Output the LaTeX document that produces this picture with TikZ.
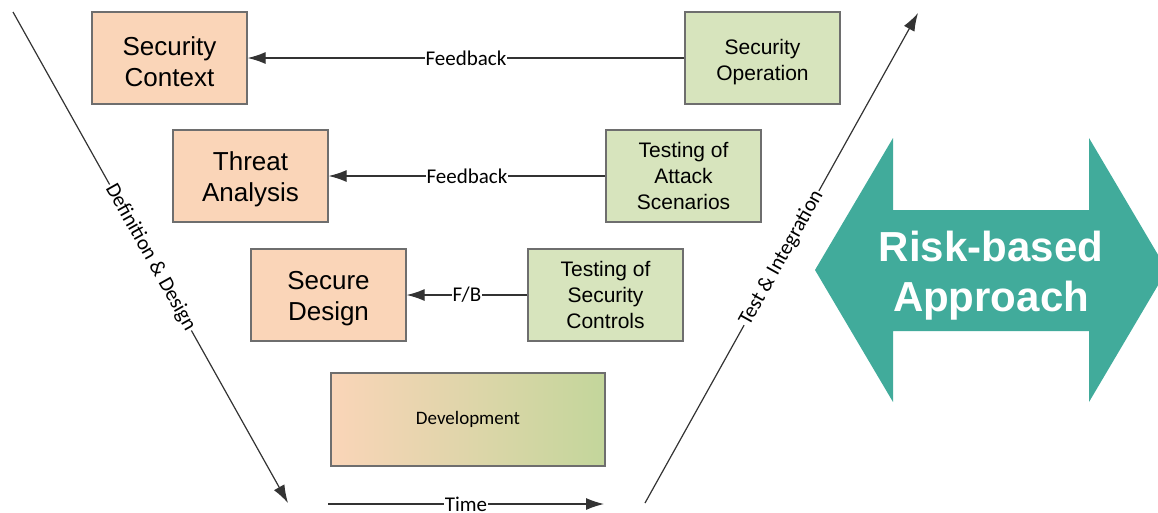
\documentclass[tikz,border=0pt]{standalone}
\usepackage{fontspec}
\setmainfont{Liberation Sans}
\newfontfamily\calib{Carlito}
\usetikzlibrary{arrows.meta}
\definecolor{peach}{HTML}{FAD5B8}
\definecolor{sage}{HTML}{D7E4BD}
\definecolor{olive}{HTML}{C3D69B}
\definecolor{teal}{HTML}{41AB9B}
\definecolor{edge}{HTML}{6E6E6E}
\definecolor{wire}{HTML}{333333}
% taller first line, pushes two-line captions slightly down in their boxes
\newcommand{\tallstrut}[1]{\rule{0pt}{#1}}
\begin{document}
\begin{tikzpicture}[x=1pt,y=-1pt,
  box/.style={draw=edge, line width=1.3pt, minimum width=155pt, minimum height=92pt,
    align=center, inner sep=0pt},
  defbox/.style={box, fill=peach, font=\fontsize{26}{31}\selectfont},
  testbox/.style={box, fill=sage, font=\fontsize{21}{26}\selectfont},
  wirelabel/.style={fill=white, inner sep=1pt, text=black, font=\calib\fontsize{21}{24}\selectfont},
  conn/.style={draw=wire, line width=1.2pt, -{Latex[length=18pt,width=12pt]}}
]
\useasboundingbox (0,0) rectangle (1158,512);
\clip (0,0) rectangle (1158,512);

% left column: definition phase
\node[defbox] (ctx) at (169.5,58) {\tallstrut{26pt}Security\\Context};
\node[defbox] (thr) at (250.5,176) {\tallstrut{25pt}Threat\\Analysis};
\node[defbox] (sec) at (328.5,295) {\tallstrut{25pt}Secure\\Design};

% right column: test phase
\node[testbox] (ops) at (762.5,58) {\tallstrut{24pt}Security\\Operation};
\node[testbox] (att) at (683.5,176) {Testing of\\Attack\\Scenarios};
\node[testbox] (ctl) at (605.5,295) {Testing of\\Security\\Controls};

% development at the bottom of the V
\node[box, minimum width=274pt, minimum height=93pt, left color=peach, right color=olive,
      font=\calib\fontsize{19}{22}\selectfont] (dev) at (468,419.5) {Development};

% feedback connectors
\draw[conn] (ops.west) -- node[wirelabel] {Feedback} (ctx.east);
\draw[conn] (att.west) -- node[wirelabel] {Feedback} (thr.east);
\draw[conn] (ctl.west) -- node[wirelabel] {F/B} (sec.east);

% V-model axes
\coordinate (dtop) at (13,12);
\coordinate (dbot) at (288,503);
\coordinate (tbot) at (645,503);
\coordinate (ttop) at (918,13);
\coordinate (tmin) at (328,504);
\coordinate (tmax) at (604,504);
\draw[conn] (dtop) -- node[wirelabel, sloped] {Definition \& Design} (dbot);
\draw[conn] (tbot) -- node[wirelabel, sloped] {Test \& Integration} (ttop);
\draw[conn] (tmin) -- node[wirelabel] {Time} (tmax);

% double-headed block arrow
\fill[teal] (815,270) -- (893,138) -- (893,210) -- (1089,210) -- (1089,138) -- (1167,270)
  -- (1089,402) -- (1089,331) -- (893,331) -- (893,402) -- cycle;
\node[text=white, align=center, font=\bfseries\fontsize{42}{50}\selectfont] (risk) at (991,276)
  {Risk-based\\Approach};
\end{tikzpicture}
\end{document}
